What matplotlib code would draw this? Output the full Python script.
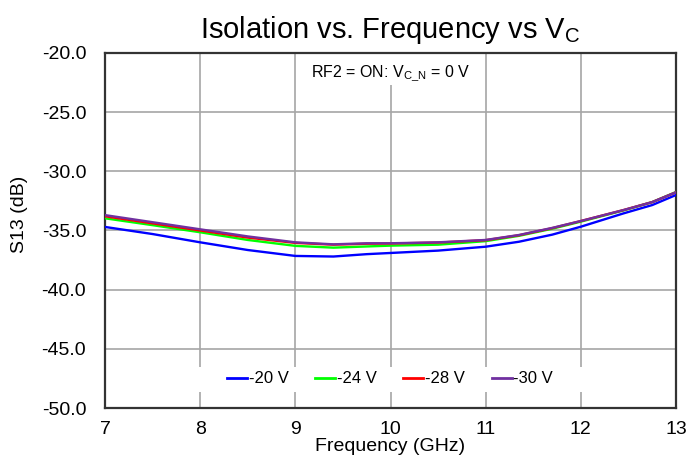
import matplotlib
matplotlib.use("Agg")
import matplotlib.pyplot as plt
from matplotlib.ticker import FormatStrFormatter
from matplotlib.patches import Rectangle

plt.rcParams['font.family'] = ['Liberation Sans', 'DejaVu Sans']

freq = [7, 7.5, 8, 8.5, 9, 9.4, 9.75, 10, 10.5, 11, 11.35, 11.7, 12, 12.45, 12.75, 13]
s20 = [-34.7, -35.3, -36.0, -36.65, -37.15, -37.2, -37.0, -36.9, -36.7, -36.37, -35.95, -35.35, -34.68, -33.55, -32.85, -32.0]
s24 = [-33.97, -34.55, -35.15, -35.8, -36.3, -36.45, -36.35, -36.28, -36.2, -35.9, -35.45, -34.85, -34.25, -33.3, -32.6, -31.75]
s28 = [-33.8, -34.4, -35.0, -35.6, -36.05, -36.2, -36.12, -36.1, -36.02, -35.82, -35.4, -34.8, -34.2, -33.27, -32.6, -31.77]
s30 = [-33.7, -34.3, -34.9, -35.5, -36.0, -36.17, -36.08, -36.08, -36.0, -35.8, -35.38, -34.78, -34.2, -33.27, -32.6, -31.77]
labels = ['-20 V', '-24 V', '-28 V', '-30 V']
colors = ['#0000ff', '#00ff00', '#ff0000', '#7030a0']

fig = plt.figure(figsize=(6.88, 4.68), dpi=100)
ax = fig.add_axes([0.1526, 0.1282, 0.83, 0.7586])

for ys, lab, c in zip([s20, s24, s28, s30], labels, colors):
    ax.plot(freq, ys, color=c, lw=1.7, label=lab, zorder=3)

ax.set_xlim(7, 13)
ax.set_ylim(-50, -20)
ax.set_xticks(range(7, 14))
ax.set_yticks([-50, -45, -40, -35, -30, -25, -20])
ax.yaxis.set_major_formatter(FormatStrFormatter('%.1f'))
ax.grid(True, color='#a6a6a6', lw=1.2)
ax.set_axisbelow(True)
ax.tick_params(length=0, labelsize=14)
ax.tick_params(axis='x', pad=9.5)
ax.tick_params(axis='y', pad=13.5)
for s in ax.spines.values():
    s.set_linewidth(1.6)
    s.set_color('#333333')

ax.set_title('Isolation vs. Frequency vs V$_\\mathregular{C}$', fontsize=21, pad=11)
ax.set_xlabel('Frequency (GHz)', fontsize=14, labelpad=0)
ax.set_ylabel('S13 (dB)', fontsize=14)
ax.yaxis.set_label_coords(-0.135, 0.544)

# white backgrounds behind annotation and legend
ax.add_patch(Rectangle((0.338, 0.91), 0.322, 0.09, transform=ax.transAxes,
                       facecolor='white', edgecolor='none', zorder=1))
ax.add_patch(Rectangle((0.149, 0.045), 0.70, 0.07, transform=ax.transAxes,
                       facecolor='white', edgecolor='none', zorder=1))

ax.text(0.5, 0.944, 'RF2 = ON: V$_\\mathregular{C\\_N}$ = 0 V', transform=ax.transAxes,
        ha='center', va='center', fontsize=11.5, zorder=4)

leg = ax.legend(loc='center', bbox_to_anchor=(0.499, 0.082), ncol=4, frameon=False,
                fontsize=12, handlelength=1.2, handletextpad=0.1, columnspacing=1.6,
                borderaxespad=0, borderpad=0)
for h in leg.get_lines():
    h.set_linewidth(2)

fig.savefig('out.png', dpi=100)
